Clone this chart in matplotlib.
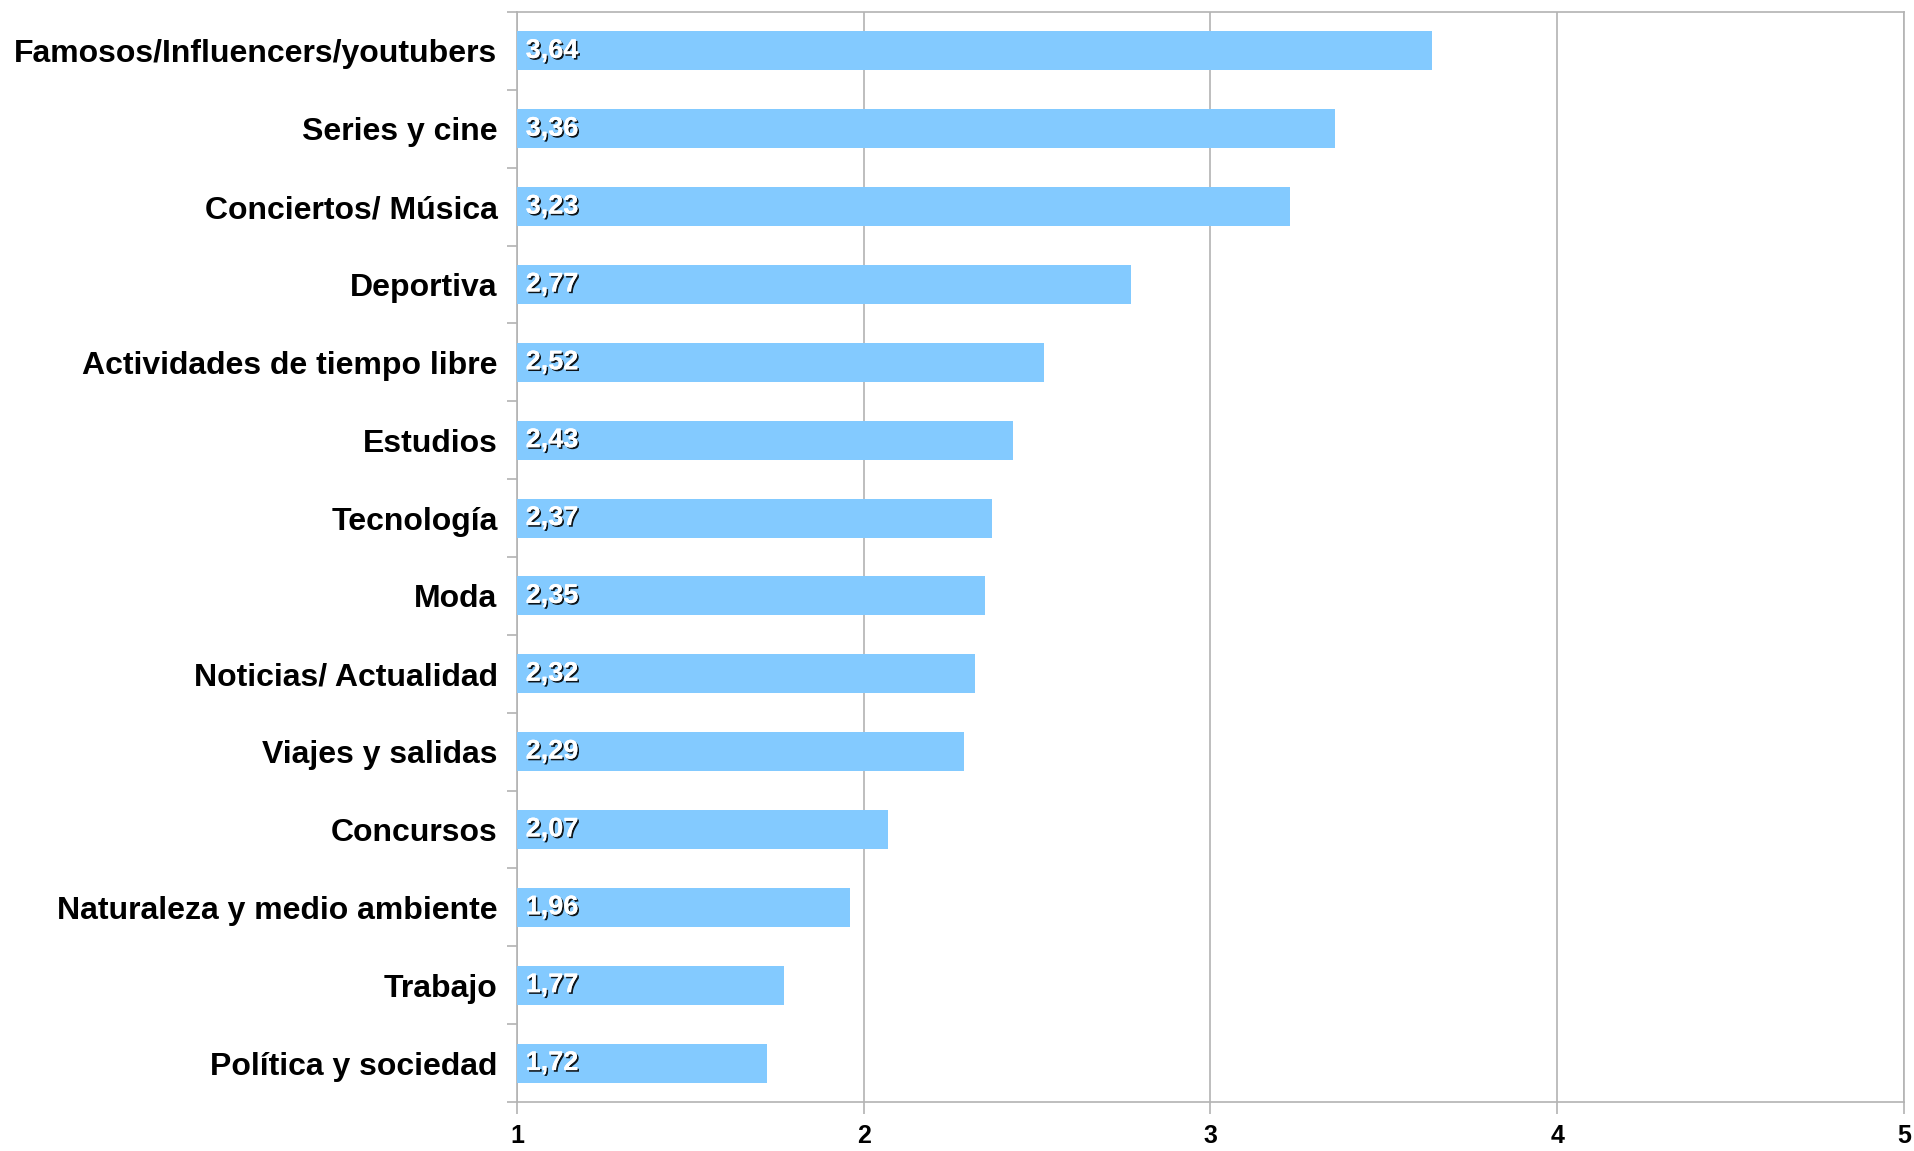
import numpy as np
import matplotlib.pyplot as plt
import matplotlib.patheffects as pe

plt.rcParams['font.family'] = ['Liberation Sans', 'DejaVu Sans']

categorias = ['Famosos/Influencers/youtubers', 'Series y cine', 'Conciertos/ Música',
              'Deportiva', 'Actividades de tiempo libre', 'Estudios', 'Tecnología',
              'Moda', 'Noticias/ Actualidad', 'Viajes y salidas', 'Concursos',
              'Naturaleza y medio ambiente', 'Trabajo', 'Política y sociedad']
valores = [3.64, 3.36, 3.23, 2.77, 2.52, 2.43, 2.37, 2.35, 2.32, 2.29, 2.07, 1.96, 1.77, 1.72]
x_ticks = [1, 2, 3, 4, 5]

grid_color = '#b3b3b3'
bar_color = '#83caff'

fig = plt.figure(figsize=(19.15, 11.51), dpi=100)
ax = fig.add_axes([517 / 1915, 49 / 1151, (1904 - 517) / 1915, (1102 - 12) / 1151])

y = np.arange(len(categorias))[::-1]
base = 1
ax.barh(y, np.array(valores) - base, left=base, height=0.5, color=bar_color, zorder=3)

for yi, v in zip(y, valores):
    ax.text(base + 0.025, yi, f'{v:.2f}'.replace('.', ','), va='center', ha='left',
            fontsize=19.5, fontweight='bold', color='white', zorder=4,
            path_effects=[pe.withSimplePatchShadow(offset=(1.2, -1.2), shadow_rgbFace='black', alpha=0.9),
                          pe.Normal()])

ax.set_xlim(1, 5)
ax.set_ylim(-0.5, len(categorias) - 0.5)
ax.set_xticks(x_ticks)
ax.set_xticklabels([str(t) for t in x_ticks], fontsize=18, fontweight='bold')
ax.set_yticks(y)
ax.set_yticklabels(categorias, fontsize=23, fontweight='bold')
ax.set_yticks(np.arange(-0.5, len(categorias), 1), minor=True)

ax.tick_params(axis='y', which='major', length=0, pad=14)
ax.tick_params(axis='y', which='minor', length=7.5, color=grid_color, width=1.2, direction='out')
ax.tick_params(axis='x', length=8.5, color=grid_color, width=1.2, pad=7)

ax.grid(axis='x', color=grid_color, linewidth=1.2, zorder=0)
ax.set_axisbelow(True)
for s in ax.spines.values():
    s.set_color(grid_color)
    s.set_linewidth(1.2)

fig.savefig('out.png', dpi=100)
